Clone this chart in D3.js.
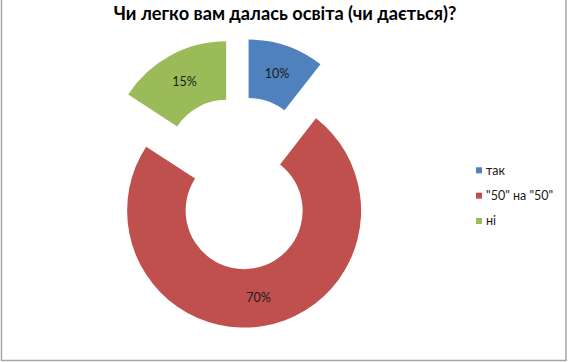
<!DOCTYPE html>
<html>
<head>
<meta charset="utf-8">
<script src="https://cdn.jsdelivr.net/npm/d3@7"></script>
<style>
  body { margin: 0; background: #fff; }
  svg { display: block; font-family: Lato, "Open Sans", sans-serif; }
</style>
</head>
<body>
<div class="chart"></div>
<script>
// data
const categories = ['так', '"50" на "50"', 'ні'];
const values = [10, 70, 15];
const labels = ['10%', '70%', '15%'];
const colors = ['#4f81bd', '#c0504d', '#9bbb59'];

const width = 568, height = 362;
const cx = 239.5, cy = 183;
const outerR = 117, innerR = 58.5;
const explode = 28;

const svg = d3.select('.chart').append('svg')
  .attr('width', width).attr('height', height);

svg.append('rect').attr('width', width).attr('height', height).attr('fill', '#fff');

// frame (left, right, bottom)
svg.append('path')
  .attr('d', 'M1.5,0 V360.5 H566 V0')
  .attr('fill', 'none')
  .attr('stroke', '#a6a6a6')
  .attr('stroke-width', 1.5);

svg.append('text')
  .attr('x', 285).attr('y', 20)
  .attr('text-anchor', 'middle')
  .attr('font-size', 18.2)
  .attr('font-weight', 'bold')
  .attr('fill', '#000')
  .text('Чи легко вам далась освіта (чи дається)?');

const pie = d3.pie().sort(null).value(d => d)
  .startAngle(0).endAngle(2 * Math.PI);
const arcs = pie(values);

const arc = d3.arc().innerRadius(innerR).outerRadius(outerR);

const g = svg.append('g').attr('transform', `translate(${cx},${cy})`);

const slice = g.selectAll('g.slice')
  .data(arcs)
  .join('g')
  .attr('class', 'slice')
  .attr('transform', d => {
    const a = (d.startAngle + d.endAngle) / 2;
    return `translate(${explode * Math.sin(a)},${-explode * Math.cos(a)})`;
  });

slice.append('path')
  .attr('d', arc)
  .attr('fill', (d, i) => colors[i]);

slice.append('text')
  .attr('transform', d => `translate(${arc.centroid(d)})`)
  .attr('text-anchor', 'middle')
  .attr('dy', '0.35em')
  .attr('font-size', 12.5)
  .attr('fill', '#1a1a1a')
  .text((d, i) => labels[i]);

// legend
const legendY = d3.scalePoint().domain(categories).range([170.3, 221]);
const legend = svg.append('g').selectAll('g')
  .data(categories)
  .join('g')
  .attr('transform', d => `translate(476,${legendY(d)})`);

legend.append('rect')
  .attr('x', 0).attr('y', -3)
  .attr('width', 6).attr('height', 6)
  .attr('fill', (d, i) => colors[i]);

legend.append('text')
  .attr('x', 10).attr('y', 0)
  .attr('dy', '0.35em')
  .attr('font-size', 12.5)
  .attr('fill', '#1a1a1a')
  .text(d => d);
</script>
</body>
</html>
